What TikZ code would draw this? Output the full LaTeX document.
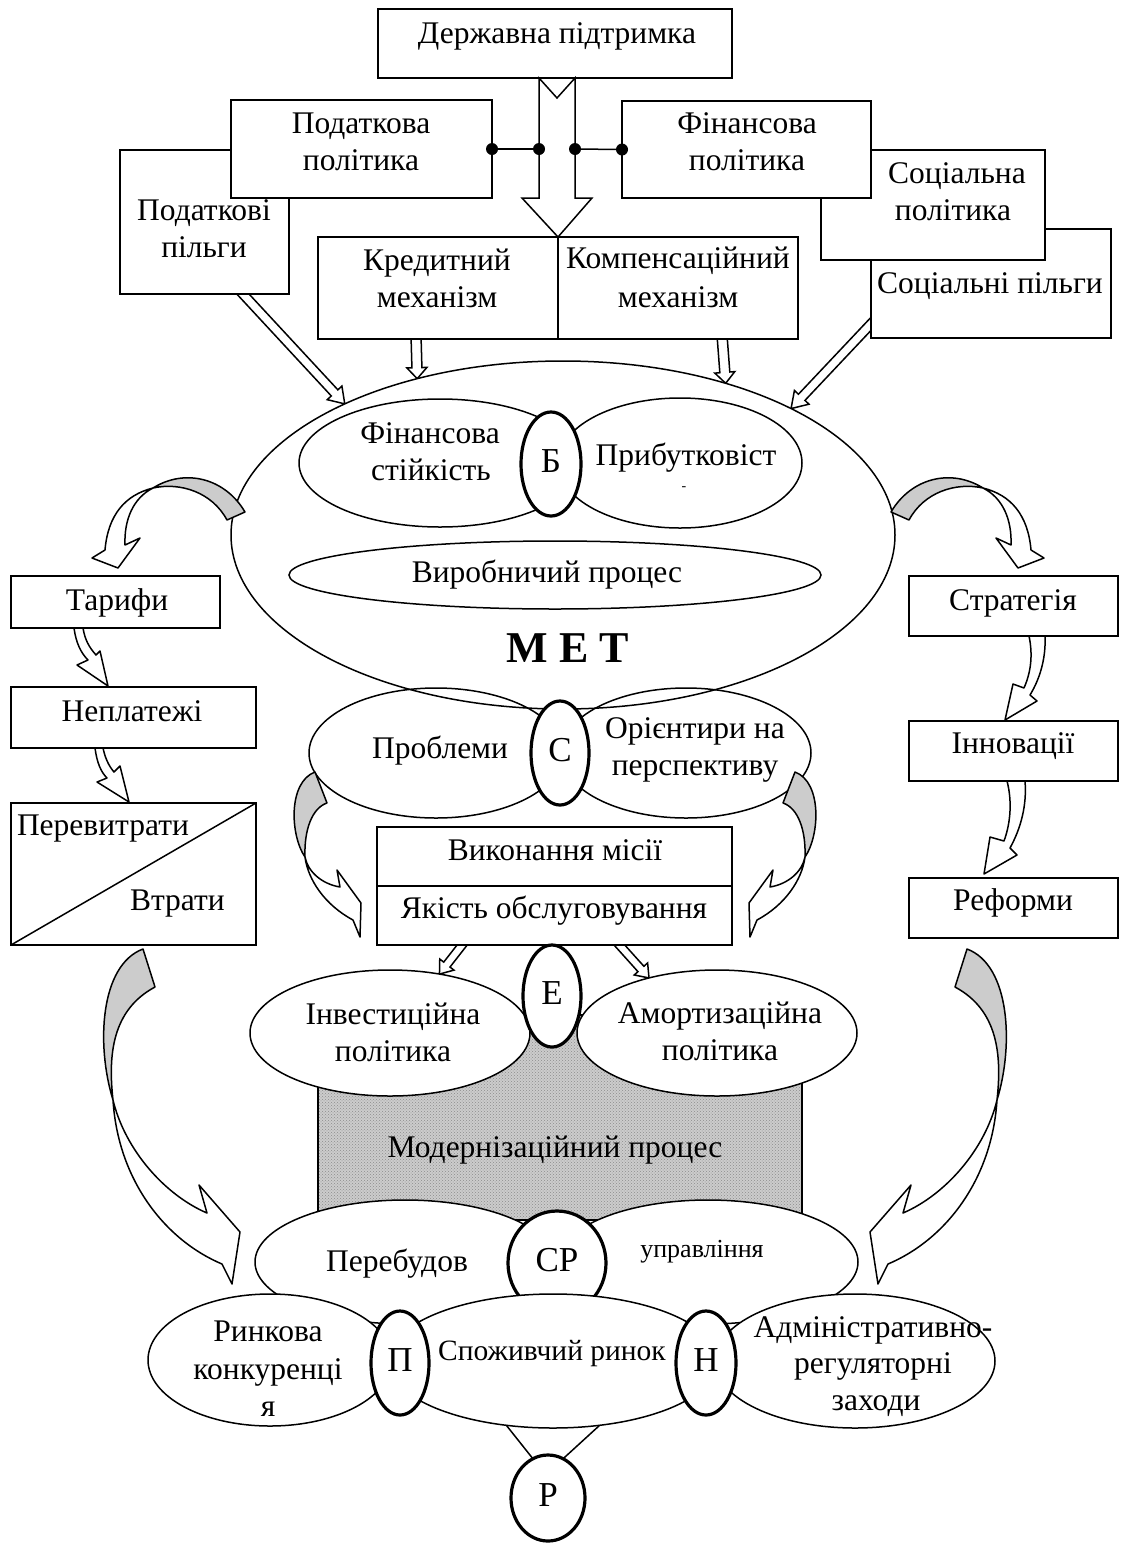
\documentclass[tikz,border=0pt]{standalone}
\usepackage{fontspec}
\setmainfont{Liberation Serif}
\usetikzlibrary{calc,shapes.geometric,patterns}

\definecolor{ribbon}{gray}{0.80}
\definecolor{hatch}{gray}{0.80}

\pgfdeclarelayer{back}
\pgfsetlayers{back,main}

% straight hollow block arrow: start, end, shaft half width, head half width, head length (pt)
\newcommand\hollowarrow[5]{%
  \draw[line width=1.5pt, fill=white, line join=miter]
    let \p1=#1, \p2=#2,
        \n1={atan2(\y2-\y1,\x2-\x1)},
        \n2={veclen(\x2-\x1,\y2-\y1)-#5}
    in ($(\p1)+(\n1+90:#3pt)$) -- ($(\p1)+(\n1:\n2)+(\n1+90:#3pt)$)
       -- ($(\p1)+(\n1:\n2)+(\n1+90:#4pt)$) -- (\p2)
       -- ($(\p1)+(\n1:\n2)+(\n1-90:#4pt)$) -- ($(\p1)+(\n1:\n2)+(\n1-90:#3pt)$)
       -- ($(\p1)+(\n1-90:#3pt)$) -- cycle;}

\tikzset{
  % twisted ribbon arrow leaving the enterprise ellipse (left variant)
  pics/curltop/.style={code={
    \draw[fill=ribbon, line join=round] (245,512) .. controls (225,478) and (185,468) .. (153,488)
        .. controls (180,482) and (212,492) .. (227,520) -- cycle;
    \draw[fill=white, line join=round] (153,488) .. controls (125,495) and (108,515) .. (105,550)
        -- (92,558) -- (118,568) -- (140,538) -- (125,545)
        .. controls (124,520) and (133,498) .. (153,488) -- cycle;}},
  % ribbon arrow from the problems ellipse to the mission block
  pics/curlmid/.style={code={
    \draw[fill=ribbon, line join=round] (315,772) .. controls (288,782) and (290,835) .. (305,857)
        .. controls (304,830) and (312,808) .. (327,803) -- cycle;
    \draw[fill=white, line join=round] (305,857) .. controls (308,880) and (325,905) .. (353,920)
        -- (360,937) -- (361,903) -- (337,870) -- (340,887)
        .. controls (322,884) and (308,872) .. (305,857) -- cycle;}},
  % long ribbon arrow from the side columns to the restructuring row
  pics/curlbot/.style={code={
    \draw[fill=ribbon, line join=round] (143,949) .. controls (100,965) and (96,1045) .. (113,1100)
        .. controls (108,1055) and (112,1010) .. (155,987) -- cycle;
    \draw[fill=white, line join=round] (113,1100) .. controls (118,1180) and (165,1240) .. (222,1264)
        -- (232,1284) -- (240,1232) -- (199,1185) -- (207,1213)
        .. controls (165,1195) and (125,1150) .. (113,1100) -- cycle;}},
}

\begin{document}
\begin{tikzpicture}[x=1pt, y=-1pt, line width=1.5pt,
  every node/.style={inner sep=0pt, outer sep=0pt},
  txt/.style={anchor=base, font=\fontsize{31.5}{37}\selectfont},
  txtw/.style={anchor=base west, font=\fontsize{31.5}{37}\selectfont},
  box/.style={draw, fill=white, rectangle},
  oval/.style={draw, ellipse},
  lett/.style={draw, ellipse, fill=white, line width=3.2pt, text depth=6pt,
               font=\fontsize{35}{40}\selectfont},
  thinarrow/.style={draw, fill=white, line join=round},
]
\useasboundingbox (0,0) rectangle (1123,1548);

% ---------------- state support and policies
\node[box, minimum width=169, minimum height=144] (pl) at (204.5,222) {};
\node[box, minimum width=261, minimum height=98] (pp) at (361.5,149) {};
\node[box, minimum width=240, minimum height=109] (sl) at (991,283.5) {};
\node[box, minimum width=224, minimum height=110] (sp) at (933,205) {};
\node[box, minimum width=249, minimum height=97] (fp) at (746.5,149.5) {};
\node[box, minimum width=354, minimum height=69] (ds) at (555,43.5) {};
\node[box, minimum width=240, minimum height=102] (kr) at (438,288) {};
\node[box, minimum width=240, minimum height=102] (kc) at (678,288) {};

\node[txt] (t1) at (557,43) {Державна підтримка};
\node[txt] (t2) at (361,133) {Податкова};
\node[txt] (t3) at (361,170) {політика};
\node[txt] (t4) at (204,220) {Податкові};
\node[txt] (t5) at (204,257) {пільги};
\node[txt] (t6) at (747,133) {Фінансова};
\node[txt] (t7) at (747,170) {політика};
\node[txt] (t8) at (957,183) {Соціальна};
\node[txt] (t9) at (953,220) {політика};
\node[txt] (t10) at (990,293) {Соціальні пільги};
\node[txt] (t11) at (437,270) {Кредитний};
\node[txt] (t12) at (437,307) {механізм};
\node[txt] (t13) at (678,268) {Компенсаційний};
\node[txt] (t14) at (678,307) {механізм};

% wide arrow from state support down to the two mechanisms
\draw[fill=white] (539,78) -- (557,98) -- (575,78) -- (575,198) -- (592,198)
  -- (kr.north east) -- (522,198) -- (539,198) -- cycle;
\coordinate (al) at (539,149);
\coordinate (ar) at (575,149);
\draw (pp.east) -- (al);
\draw (ar) -- (fp.west);
\foreach \c in {pp.east, al, ar, fp.west} \fill (\c) circle (6);

% ---------------- enterprise (MET)
\node[oval, fill=white, minimum width=664, minimum height=348] (met) at (563,535) {};
\node[oval, minimum width=282, minimum height=128] (fs) at (440,463) {};
\node[oval, minimum width=244, minimum height=130] (pr) at (680,463) {};
\node[lett, minimum width=60, minimum height=104] (b) at (551,464) {Б};
\node[oval, minimum width=532, minimum height=68] (vp) at (555,575) {};
\node[txt] (t15) at (430,443) {Фінансова};
\node[txt] (t16) at (431,480) {стійкість};
\node[txt] (t17) at (686,465) {Прибутковіст};
\node[txt, font=\fontsize{14}{14}\selectfont] (t18) at (684,490) {-};
\node[txt] (t19) at (547,582) {Виробничий процес};
\node[txt, font=\fontsize{44}{50}\selectfont\bfseries] (t20) at (568,662) {М Е Т};

\pic at (0,0) {curltop};
\pic[xscale=-1] at (1136,0) {curltop};

% ---------------- strategic row
\node[oval, minimum width=254, minimum height=130] (prob) at (436,753) {};
\node[oval, minimum width=250, minimum height=130] (ori) at (686,753) {};
\node[lett, minimum width=58, minimum height=104] (c) at (560,753) {С};
\node[txt] (t21) at (440,758) {Проблеми};
\node[txt] (t22) at (695,738) {Орієнтири на};
\node[txt] (t23) at (695,775) {перспективу};

\pic at (0,0) {curlmid};
\pic[xscale=-1] at (1110,0) {curlmid};

% ---------------- mission block
\node[box, minimum width=355, minimum height=59] (vm) at (554.5,856.5) {};
\node[box, minimum width=355, minimum height=59] (yo) at (554.5,915.5) {};
\node[txt] (t24) at (555,860) {Виконання місії};
\node[txt] (t25) at (554,918) {Якість обслуговування};

% ---------------- modernisation block
\node[rectangle, draw, fill=hatch, minimum width=484, minimum height=205] (mod) at (560,1117.5) {};
\fill[pattern=crosshatch dots, pattern color=black!45] (mod.south west) rectangle (mod.north east);
\draw (mod.south west) rectangle (mod.north east);

\node[oval, fill=white, minimum width=280, minimum height=126] (inv) at (390,1033) {};
\node[oval, fill=white, minimum width=280, minimum height=126] (am) at (717,1033) {};
\node[lett, minimum width=58, minimum height=102] (e) at (552,996) {Е};
\node[txt] (t26) at (393,1024) {Інвестиційна};
\node[txt] (t27) at (393,1061) {політика};
\node[txt] (t28) at (720,1023) {Амортизаційна};
\node[txt] (t29) at (720,1060) {політика};
\node[txt] (t30) at (555,1157) {Модернізаційний процес};

% ---------------- restructuring row
\node[oval, fill=white, minimum width=300, minimum height=124] (pb) at (405,1262) {};
\node[oval, fill=white, minimum width=300, minimum height=124] (up) at (708,1262) {};
\node[lett, minimum width=98, minimum height=104] (cp) at (557,1263) {СР};
\node[txt] (t31) at (397,1271) {Перебудов};
\node[txt, font=\fontsize{26}{30}\selectfont] (t32) at (702,1257) {управління};

% ---------------- market row
\node[oval, fill=white, minimum width=244, minimum height=132] (rk) at (270,1360) {};
\node[oval, fill=white, minimum width=330, minimum height=134] (sr) at (553,1361) {};
\node[oval, fill=white, minimum width=280, minimum height=134] (ad) at (855,1361) {};
\node[lett, minimum width=58, minimum height=104] (p) at (400,1363) {П};
\node[lett, minimum width=60, minimum height=104] (h) at (706,1363) {Н};
\node[lett, minimum width=74, minimum height=86] (r) at (548,1498) {Р};
\draw (sr.234) -- (r.111);
\draw (sr.306) -- (r.69);
\node[txt] (t33) at (268,1341) {Ринкова};
\node[txt] (t34) at (268,1379) {конкуренці};
\node[txt] (t35) at (268,1416) {я};
\node[txt, font=\fontsize{29.5}{35}\selectfont] (t36) at (552,1360) {Споживчий ринок};
\node[txt] (t37) at (873,1337) {Адміністративно-};
\node[txt] (t38) at (873,1373) {регуляторні};
\node[txt] (t39) at (876,1410) {заходи};

% ---------------- left column
\node[box, minimum width=209, minimum height=52] (tf) at (115.5,602) {};
\node[box, minimum width=245, minimum height=61] (np) at (133.5,717.5) {};
\node[box, minimum width=245, minimum height=142] (pv) at (133.5,874) {};
\draw (pv.south west) -- (pv.north east);
\node[txt] (t40) at (117,610) {Тарифи};
\node[txt] (t41) at (132,721) {Неплатежі};
\node[txtw] (t42) at (17,835) {Перевитрати};
\node[txtw] (t43) at (130,910) {Втрати};

\path[thinarrow] (74,628) .. controls (76,643) and (81,653) .. (88,660) -- (77,665) -- (108,686)
  -- (100,651) -- (96,655) .. controls (89,647) and (85,640) .. (83,628) -- cycle;
\path[thinarrow] (95,748) .. controls (97,763) and (101,772) .. (107,778) -- (97,782) -- (129,802)
  -- (120,766) -- (114,772) .. controls (108,765) and (105,757) .. (103,748) -- cycle;

% ---------------- right column
\node[box, minimum width=209, minimum height=60] (st) at (1013.5,606) {};
\node[box, minimum width=209, minimum height=60] (inn) at (1013.5,751) {};
\node[box, minimum width=209, minimum height=60] (rf) at (1013.5,908) {};
\node[txt] (t44) at (1013,610) {Стратегія};
\node[txt] (t45) at (1013,753) {Інновації};
\node[txt] (t46) at (1013,910) {Реформи};

\path[thinarrow] (1029,636) .. controls (1033,655) and (1031,672) .. (1024,688) -- (1013,684) -- (1005,720)
  -- (1037,701) -- (1030,695) .. controls (1041,677) and (1046,656) .. (1045,636) -- cycle;
\path[thinarrow] (1007,781) .. controls (1012,800) and (1011,822) .. (1004,841) -- (990,837) -- (984,874)
  -- (1017,855) -- (1010,848) .. controls (1021,828) and (1027,805) .. (1025,781) -- cycle;

% ---------------- long ribbons down to the restructuring row
\pic at (0,0) {curlbot};
\pic[xscale=-1] at (1110,0) {curlbot};

% ---------------- straight hollow arrows, kept behind boxes and ellipses
\begin{pgfonlayer}{back}
  \hollowarrow{($(pl.south)+(31,-8)$)}{(met.149)}{4.5}{10}{15}
  \hollowarrow{($(sl.west)+(6,34)$)}{(met.29)}{4.5}{10}{15}
  \hollowarrow{($(kr.south)+(-22,-4)$)}{(met.133.3)}{5}{10}{11}
  \hollowarrow{($(kc.south)+(44,-4)$)}{(met.43.9)}{5}{10}{11}
  \hollowarrow{($(yo.south)+(-86.5,-7.5)$)}{(inv.50)}{4}{9}{12}
  \hollowarrow{($(yo.south)+(59.5,-6)$)}{(am.141)}{4}{9}{12}
\end{pgfonlayer}
\end{tikzpicture}
\end{document}
